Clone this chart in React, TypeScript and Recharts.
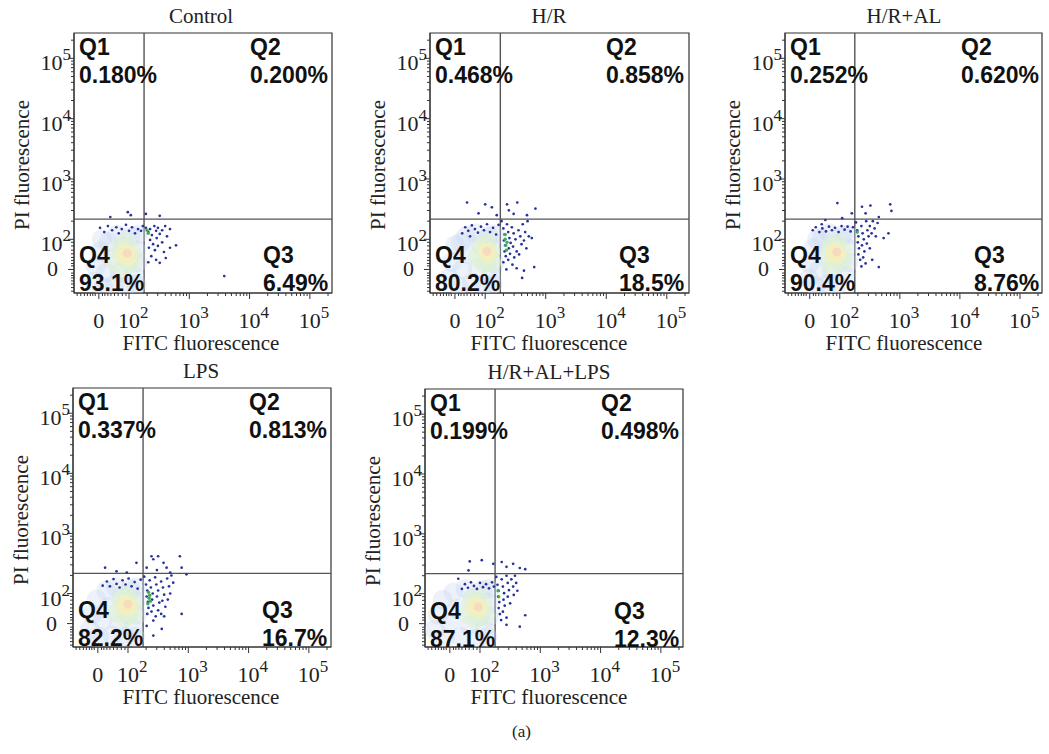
import React from "react"
import { ScatterChart, Scatter, XAxis, YAxis, ReferenceLine, ReferenceArea } from "recharts"

type Pt = [number, number]

// positions are biexponential display units: 10^n sits at n, the zero sits at 1.5
const X_DOMAIN: [number, number] = [1.088, 5.367]
const Y_DOMAIN: [number, number] = [1.11, 5.42]
const GATE_X = 2.25
const GATE_Y = 2.335

const majorTicks = [
  { pos: 1.5, exp: "" },
  { pos: 2, exp: "2" },
  { pos: 3, exp: "3" },
  { pos: 4, exp: "4" },
  { pos: 5, exp: "5" },
]
const linearTicks = [1.14, 1.2, 1.26, 1.31, 1.36, 1.4, 1.44, 1.56, 1.6, 1.65, 1.7, 1.76, 1.82, 1.89, 1.95]
const decadeSteps = [2, 3, 4, 5, 6, 7, 8, 9]
const logTicks = [2, 3, 4].flatMap((d) => decadeSteps.map((k) => d + Math.log10(k))).concat([5 + Math.log10(2)])
const allTicks = [...linearTicks, ...majorTicks.map((t) => t.pos), ...logTicks].sort((a, b) => a - b)

const titles = ["Control", "H/R", "H/R+AL", "LPS", "H/R+AL+LPS"]
const q1Values = ["0.180%", "0.468%", "0.252%", "0.337%", "0.199%"]
const q2Values = ["0.200%", "0.858%", "0.620%", "0.813%", "0.498%"]
const q3Values = ["6.49%", "18.5%", "8.76%", "16.7%", "12.3%"]
const q4Values = ["93.1%", "80.2%", "90.4%", "82.2%", "87.1%"]

// main (live) population, drawn as density layers
const controlOuter: Pt[] = [[1.42,1.30],[1.45,1.55],[1.52,1.80],[1.58,1.20],[1.62,1.45],[1.66,1.95],[1.72,1.68],[1.76,1.25],[1.80,2.08],[1.85,1.45],[1.90,1.88],[1.95,1.22],[2.00,1.62],[2.03,2.05],[2.08,1.40],[2.12,1.82],[2.14,1.62],[2.14,2.08],[1.55,2.0],[2.12,1.25]]
const controlMid: Pt[] = [[1.78,1.62],[1.85,1.85],[1.95,1.95],[1.92,1.55],[2.04,1.80],[2.06,1.62],[1.98,1.72]]
const controlInner: Pt[] = [[1.93,1.80],[2.00,1.70],[1.97,1.78],[1.90,1.72]]
const controlPeak: Pt[] = [[1.97,1.77]]
const controlEvents: Pt[] = [
  [1.52,2.19],[1.59,2.12],[1.65,2.22],[1.72,2.15],[1.79,2.20],[1.83,2.10],[1.88,2.17],[1.95,2.24],[2.00,2.14],[2.05,2.20],[2.10,2.10],[2.15,2.17],[2.20,2.14],[2.23,2.22],
  [2.28,2.19],[2.32,2.12],[2.35,2.17],[2.38,2.07],[2.42,2.22],[2.45,2.14],[2.48,2.19],[2.51,2.09],[2.46,2.02],[2.55,2.15],[2.60,2.22],[2.35,1.99],[2.40,1.92],[2.33,1.86],[2.43,1.82],[2.48,1.89],[2.55,1.95],[2.58,1.79],[2.37,1.72],[2.45,1.66],[2.51,1.61],[2.63,2.05],[2.68,2.17],[2.32,1.62],[2.61,1.69],[2.68,1.86],[2.78,1.90],
  [1.69,2.37],[1.98,2.45],[2.03,2.40],[2.28,2.42],[2.51,2.39],[3.58,1.39],
]
const controlHot: Pt[] = [[2.30,2.15],[2.32,2.10]]

const hrOuter: Pt[] = [[1.40,1.35],[1.45,1.62],[1.50,1.90],[1.56,1.22],[1.62,1.50],[1.68,2.05],[1.72,1.75],[1.78,1.28],[1.84,2.10],[1.88,1.52],[1.93,1.92],[1.98,1.25],[2.03,1.62],[2.06,2.05],[2.10,1.40],[2.13,1.85],[2.15,1.60],[2.15,2.08],[1.60,1.95],[2.12,1.25]]
const hrMid: Pt[] = [[1.88,1.70],[1.95,1.88],[2.02,1.95],[1.98,1.60],[2.08,1.80],[2.10,1.62],[2.04,1.75]]
const hrInner: Pt[] = [[2.00,1.82],[2.06,1.74],[2.03,1.79]]
const hrPeak: Pt[] = [[2.03,1.80]]
const hrEvents: Pt[] = [
  [1.70,2.61],[2.00,2.58],[2.11,2.53],[2.36,2.58],[2.53,2.61],[2.83,2.51],[2.69,2.40],[2.47,2.42],[2.19,2.40],[2.39,2.48],[1.89,2.43],
  [1.67,2.20],[1.72,2.14],[1.78,2.23],[1.83,2.17],[1.88,2.11],[1.93,2.21],[1.98,2.15],[2.03,2.25],[2.08,2.12],[2.13,2.19],[2.18,2.08],[2.22,2.24],[1.62,2.10],[1.75,2.05],
  [2.27,2.30],[2.30,2.18],[2.32,2.08],[2.31,1.98],[2.33,1.90],[2.32,1.80],[2.34,1.72],[2.30,1.62],[2.36,2.25],[2.38,2.12],[2.40,2.02],[2.42,1.94],[2.39,1.85],[2.41,1.76],[2.38,1.66],[2.44,2.20],[2.47,2.10],[2.50,2.00],[2.46,1.88],[2.52,1.80],[2.48,1.70],[2.55,2.15],[2.58,2.05],[2.60,1.92],[2.56,1.75],[2.62,2.25],[2.66,2.12],[2.64,1.98],[2.70,2.30],[2.45,1.58],[2.52,1.52],[2.35,1.50],[2.72,2.05],[2.68,1.85],
  [2.77,2.02],[2.81,1.54],[2.61,1.36],[2.64,1.48],
]
const hrHot: Pt[] = [[2.33,2.08],[2.33,2.0],[2.34,1.9],[2.35,1.82],[2.36,1.95]]

const hrAlOuter: Pt[] = [[1.48,1.35],[1.50,1.60],[1.56,1.85],[1.60,1.22],[1.65,1.48],[1.70,2.02],[1.74,1.72],[1.78,1.25],[1.83,2.10],[1.87,1.48],[1.92,1.92],[1.96,1.25],[2.01,1.62],[2.04,2.06],[2.08,1.40],[2.12,1.85],[2.14,1.62],[2.14,2.08],[1.62,2.0]]
const hrAlMid: Pt[] = [[1.80,1.65],[1.86,1.88],[1.95,1.95],[1.90,1.58],[2.03,1.82],[2.06,1.64],[1.96,1.74]]
const hrAlInner: Pt[] = [[1.91,1.82],[1.98,1.74],[1.95,1.79],[1.88,1.74]]
const hrAlPeak: Pt[] = [[1.95,1.79]]
const hrAlEvents: Pt[] = [
  [1.96,2.60],[2.20,2.43],[2.37,2.54],[2.51,2.56],[2.65,2.37],[2.84,2.58],[2.86,2.47],[2.43,2.43],[1.76,2.32],[2.04,2.35],
  [2.81,2.10],[2.73,2.02],[2.65,1.54],[2.54,1.66],
  [1.55,2.15],[1.60,2.20],[1.66,2.12],[1.71,2.18],[1.77,2.13],[1.82,2.21],[1.87,2.15],[1.92,2.19],[1.98,2.12],[2.03,2.22],[2.08,2.16],[2.13,2.21],[2.18,2.13],[2.22,2.20],[1.70,2.25],
  [2.27,2.28],[2.29,2.15],[2.31,2.05],[2.30,1.95],[2.32,1.85],[2.31,1.75],[2.34,1.66],[2.36,2.22],[2.38,2.10],[2.40,2.00],[2.37,1.90],[2.41,1.80],[2.39,1.70],[2.44,2.30],[2.46,2.15],[2.48,2.05],[2.45,1.93],[2.50,2.22],[2.53,2.10],[2.55,2.30],[2.58,2.18],[2.60,2.05],[2.43,1.60],[2.36,1.55],[2.63,2.27],[2.50,1.85],
]
const hrAlHot: Pt[] = [[2.29,2.12]]

const lpsOuter: Pt[] = [[1.36,1.40],[1.40,1.65],[1.48,1.90],[1.52,1.28],[1.58,1.55],[1.64,2.05],[1.68,1.78],[1.74,1.30],[1.80,2.10],[1.85,1.50],[1.90,1.95],[1.95,1.28],[2.00,1.65],[2.04,2.08],[2.08,1.42],[2.13,1.88],[2.15,1.65],[2.14,2.10],[2.12,1.28]]
const lpsMid: Pt[] = [[1.82,1.68],[1.88,1.90],[1.98,1.98],[1.95,1.60],[2.06,1.85],[2.08,1.66],[2.00,1.78]]
const lpsInner: Pt[] = [[1.96,1.85],[2.03,1.76],[2.00,1.82],[1.93,1.77]]
const lpsPeak: Pt[] = [[2.00,1.82]]
const lpsEvents: Pt[] = [
  [1.62,2.43],[2.14,2.51],[2.39,2.62],[2.50,2.62],[2.42,2.57],[2.59,2.51],[2.64,2.43],[2.86,2.62],[2.89,2.43],[2.97,2.32],[2.31,2.43],[2.48,2.39],[2.70,2.35],[1.98,2.35],[1.81,2.37],
  [1.65,2.20],[1.70,2.12],[1.76,2.24],[1.81,2.16],[1.86,2.10],[1.91,2.22],[1.96,2.15],[2.01,2.25],[2.06,2.12],[2.11,2.19],[2.16,2.08],[2.21,2.23],[1.58,2.13],
  [2.27,2.28],[2.30,2.15],[2.32,2.05],[2.31,1.95],[2.33,1.86],[2.34,1.76],[2.32,1.66],[2.36,2.22],[2.38,2.10],[2.41,2.00],[2.40,1.90],[2.42,1.80],[2.39,1.70],[2.45,2.27],[2.47,2.15],[2.50,2.05],[2.48,1.95],[2.52,1.85],[2.50,1.72],[2.55,2.20],[2.58,2.10],[2.60,1.98],[2.57,1.88],[2.62,1.78],[2.65,2.25],[2.68,2.12],[2.70,2.00],[2.66,1.90],[2.72,2.30],[2.75,2.18],[2.46,1.62],[2.42,1.55],[2.55,1.66],[2.60,1.62],
  [2.89,1.66],[2.31,1.46],[2.42,1.30],[2.56,1.41],
]
const lpsHot: Pt[] = [[2.34,2.02],[2.35,1.92],[2.33,1.83],[2.36,1.97],[2.37,1.87]]

const hrAlLpsOuter: Pt[] = [[1.25,1.40],[1.30,1.65],[1.38,1.90],[1.42,1.25],[1.50,1.52],[1.56,2.02],[1.62,1.75],[1.68,1.28],[1.76,2.08],[1.82,1.48],[1.88,1.92],[1.94,1.25],[2.00,1.62],[2.04,2.06],[2.08,1.40],[2.13,1.85],[2.15,1.62],[2.14,2.08],[2.12,1.28]]
const hrAlLpsMid: Pt[] = [[1.80,1.66],[1.86,1.88],[1.96,1.96],[1.92,1.58],[2.04,1.82],[2.08,1.64],[1.97,1.76]]
const hrAlLpsInner: Pt[] = [[1.93,1.82],[2.00,1.74],[1.97,1.78],[1.90,1.75]]
const hrAlLpsPeak: Pt[] = [[1.97,1.78]]
const hrAlLpsEvents: Pt[] = [
  [1.83,2.54],[2.03,2.56],[2.22,2.50],[2.36,2.53],[2.44,2.45],[2.55,2.50],[2.66,2.43],[2.75,2.41],[1.81,2.39],[1.64,2.25],
  [2.75,1.64],[2.66,1.45],[2.44,1.48],
  [1.75,2.16],[1.80,2.10],[1.85,2.19],[1.90,2.13],[1.95,2.08],[2.00,2.18],[2.05,2.11],[2.10,2.16],[2.15,2.09],[2.20,2.19],[2.23,2.12],[1.70,2.08],
  [2.27,2.28],[2.29,2.15],[2.31,2.05],[2.30,1.95],[2.32,1.86],[2.31,1.76],[2.33,1.66],[2.36,2.24],[2.38,2.12],[2.40,2.01],[2.39,1.90],[2.41,1.80],[2.38,1.70],[2.44,2.30],[2.46,2.18],[2.48,2.06],[2.46,1.95],[2.50,1.84],[2.52,2.24],[2.55,2.12],[2.58,2.30],[2.60,2.18],[2.56,1.98],[2.44,1.60],[2.62,2.05],[2.35,1.56],
]
const hrAlLpsHot: Pt[] = [[2.30,2.05],[2.31,1.95]]

const panels = [
  { outer: controlOuter, mid: controlMid, inner: controlInner, peak: controlPeak, events: controlEvents, hot: controlHot },
  { outer: hrOuter, mid: hrMid, inner: hrInner, peak: hrPeak, events: hrEvents, hot: hrHot },
  { outer: hrAlOuter, mid: hrAlMid, inner: hrAlInner, peak: hrAlPeak, events: hrAlEvents, hot: hrAlHot },
  { outer: lpsOuter, mid: lpsMid, inner: lpsInner, peak: lpsPeak, events: lpsEvents, hot: lpsHot },
  { outer: hrAlLpsOuter, mid: hrAlLpsMid, inner: hrAlLpsInner, peak: hrAlLpsPeak, events: hrAlLpsEvents, hot: hrAlLpsHot },
]

// page layout of each plot box
const boxes = [
  { left: 74, top: 33, w: 258, h: 260, mid: 127 },
  { left: 430, top: 33, w: 259, h: 260, mid: 119 },
  { left: 785, top: 33, w: 257, h: 260, mid: 119 },
  { left: 73, top: 388, w: 258, h: 259, mid: 128 },
  { left: 425, top: 389, w: 258, h: 258, mid: 124 },
]

const SERIF = "'Liberation Serif', 'Times New Roman', serif"
const SANS = "'Liberation Sans', Arial, sans-serif"
const OX = 74
const OY = 33
const titleStyle = { fontFamily: SERIF, fontSize: 21, fill: "#222" }

const toXY = (pts: Pt[]) => pts.map(([x, y]) => ({ x, y }))
const dot = (r: number, fill: string, opacity = 1) => (p: any) =>
  <circle cx={p.cx} cy={p.cy} r={r} fill={fill} fillOpacity={opacity} />

const findMajor = (v: number) => majorTicks.find((t) => Math.abs(t.pos - v) < 1e-6)

// label for a major tick: "0" or 10 with a raised exponent
function TickLabel({ x, y, exp, anchor }: { x: number; y: number; exp: string; anchor: "start" | "middle" | "end" }) {
  if (!exp) {
    return <text x={x} y={y} textAnchor={anchor} fontFamily={SERIF} fontSize="22px" fill="#222">0</text>
  }
  return (
    <text x={x} y={y} textAnchor={anchor} fontFamily={SERIF} fontSize="22px" fill="#222">
      <tspan fontSize="22px">10</tspan>
      <tspan dy={-10} fontSize="17px">{exp}</tspan>
    </text>
  )
}

function XTick(props: any) {
  const { x, y, payload } = props
  const major = findMajor(payload.value)
  return (
    <g>
      <line x1={x} x2={x} y1={y} y2={y + (major ? 6 : 3)} stroke="#333" strokeWidth={1} />
      {major && (major.exp
        ? <TickLabel x={x - 11} y={y + 35} exp={major.exp} anchor="start" />
        : <TickLabel x={x} y={y + 35} exp="" anchor="middle" />)}
    </g>
  )
}

function YTick(props: any) {
  const { x, y, payload } = props
  const major = findMajor(payload.value)
  return (
    <g>
      <line x1={x - (major ? 6 : 3)} x2={x} y1={y} y2={y} stroke="#333" strokeWidth={1} />
      {major && (major.exp
        ? <TickLabel x={x - 3} y={y + 12} exp={major.exp} anchor="end" />
        : <TickLabel x={x - 16} y={y + 7} exp="" anchor="end" />)}
    </g>
  )
}

function Panel({ index }: { index: number }) {
  const b = boxes[index]
  const d = panels[index]
  const width = OX + b.w + 12
  const height = OY + b.h + 70
  const qStyle = { fontFamily: SANS, fontWeight: 700, fontSize: 23, fill: "#111" } as const
  return (
    <div style={{ position: "absolute", left: b.left - OX, top: b.top - OY, width, height }}>
      <ScatterChart width={width} height={height} margin={{ top: OY, left: OX - 60, right: 12, bottom: 30 }}>
        <XAxis dataKey="x" type="number" domain={X_DOMAIN} allowDataOverflow ticks={allTicks} interval={0}
          tick={XTick} tickLine={false} tickSize={0} tickMargin={0} height={40} axisLine={{ stroke: "#333" }} />
        <YAxis dataKey="y" type="number" domain={Y_DOMAIN} allowDataOverflow ticks={allTicks} interval={0}
          tick={YTick} tickLine={false} tickSize={0} tickMargin={0} width={60} axisLine={{ stroke: "#333" }} />
        <Scatter data={toXY(d.outer)} shape={dot(10, "#c8d8f0", 0.35)} isAnimationActive={false} />
        <Scatter data={toXY(d.mid)} shape={dot(10, "#e0f1d4", 0.6)} isAnimationActive={false} />
        <Scatter data={toXY(d.inner)} shape={dot(8, "#f4efbe", 0.7)} isAnimationActive={false} />
        <Scatter data={toXY(d.peak)} shape={dot(4.5, "#f6d6bf", 0.8)} isAnimationActive={false} />
        <Scatter data={toXY(d.events)} shape={dot(1.35, "#28339a")} isAnimationActive={false} />
        <Scatter data={toXY(d.hot)} shape={dot(1.7, "#3fa85a")} isAnimationActive={false} />
        <ReferenceLine x={GATE_X} stroke="#555" strokeWidth={1.4} />
        <ReferenceLine y={GATE_Y} stroke="#555" strokeWidth={1.4} />
        <ReferenceArea x1={X_DOMAIN[0]} x2={X_DOMAIN[1]} y1={Y_DOMAIN[0]} y2={Y_DOMAIN[1]}
          fill="none" fillOpacity={0} stroke="#333" strokeWidth={1.2} />
      </ScatterChart>
      <svg width={width} height={height} style={{ position: "absolute", left: 0, top: 0, pointerEvents: "none" }}>
        <text x={OX + b.mid} y={OY - 10} textAnchor="middle" style={titleStyle}>{titles[index]}</text>
        <text x={OX + b.mid} y={OY + b.h + 57} textAnchor="middle" style={titleStyle}>FITC fluorescence</text>
        <text transform={`translate(${OX - 45},${OY + 132}) rotate(-90)`} textAnchor="middle" style={titleStyle}>PI fluorescence</text>
        <text x={OX + 5} y={OY + 22} style={qStyle}>Q1</text>
        <text x={OX + 5} y={OY + 50} style={qStyle}>{q1Values[index]}</text>
        <text x={OX + 176} y={OY + 22} style={qStyle}>Q2</text>
        <text x={OX + 176} y={OY + 50} style={qStyle}>{q2Values[index]}</text>
        <text x={OX + 189} y={OY + 230} style={qStyle}>Q3</text>
        <text x={OX + 189} y={OY + 258} style={qStyle}>{q3Values[index]}</text>
        <text x={OX + 5} y={OY + 230} style={qStyle}>Q4</text>
        <text x={OX + 5} y={OY + 258} style={qStyle}>{q4Values[index]}</text>
      </svg>
    </div>
  )
}

export default function App() {
  return (
    <div style={{ position: "absolute", left: 0, top: 0, width: 1049, height: 754, background: "#fff", overflow: "hidden" }}>
      {titles.map((_, i) => <Panel key={i} index={i} />)}
      <div style={{ position: "absolute", left: 512, top: 722, fontFamily: SERIF, fontSize: 17, color: "#222" }}>(a)</div>
    </div>
  )
}
